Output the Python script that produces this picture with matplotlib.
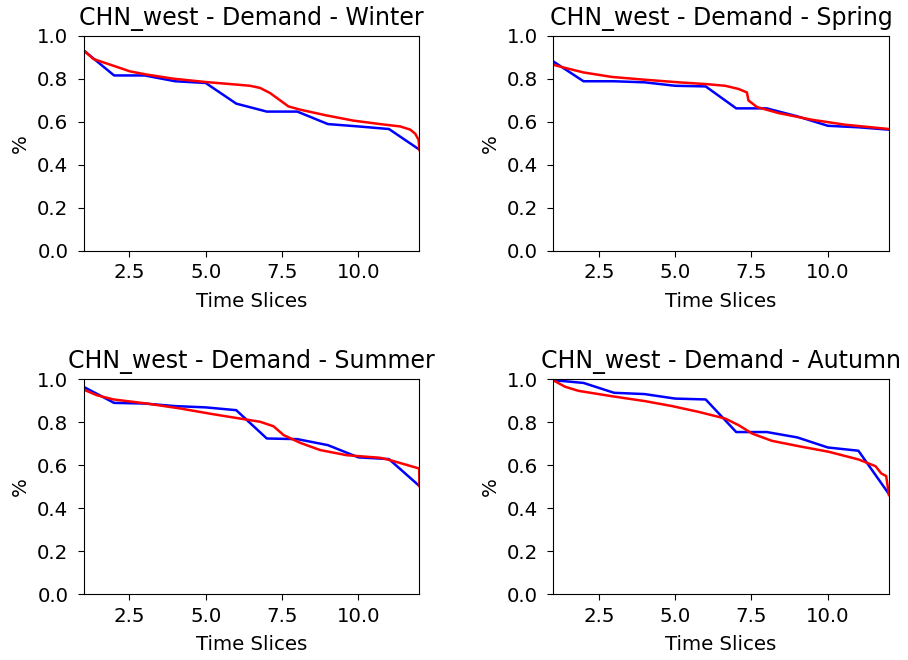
import matplotlib
matplotlib.use("Agg")
import matplotlib.pyplot as plt

# time slices for the 12-point (blue) series
slices = list(range(1, 13))

# blue: aggregated time-slice demand
winter_blue = [0.932, 0.815, 0.815, 0.788, 0.780, 0.684, 0.647, 0.647, 0.589, 0.578, 0.566, 0.470]
spring_blue = [0.881, 0.788, 0.788, 0.783, 0.767, 0.764, 0.662, 0.662, 0.625, 0.581, 0.574, 0.563]
summer_blue = [0.966, 0.891, 0.888, 0.876, 0.870, 0.857, 0.725, 0.722, 0.694, 0.637, 0.629, 0.503]
autumn_blue = [0.997, 0.984, 0.938, 0.932, 0.911, 0.907, 0.755, 0.755, 0.730, 0.683, 0.668, 0.466]

# red: sorted hourly demand (read at a set of positions)
winter_red_x = [1, 1.33, 1.98, 2.52, 3.07, 3.94, 5.03, 5.80, 6.45, 6.78, 7.11, 7.44, 7.71, 8.09,
                8.96, 9.84, 10.71, 11.37, 11.70, 11.86, 11.97, 12]
winter_red = [0.932, 0.891, 0.860, 0.834, 0.819, 0.800, 0.784, 0.775, 0.767, 0.757, 0.733, 0.699,
              0.671, 0.656, 0.629, 0.605, 0.589, 0.578, 0.563, 0.544, 0.516, 0.468]

spring_red_x = [1, 1.40, 2.0, 2.93, 4.02, 5.12, 5.99, 6.64, 7.08, 7.35, 7.40, 7.68, 8.39, 9.48,
                10.57, 12]
spring_red = [0.865, 0.850, 0.829, 0.808, 0.795, 0.783, 0.775, 0.767, 0.752, 0.736, 0.699, 0.668,
              0.640, 0.609, 0.586, 0.566]

summer_red_x = [1, 1.43, 1.98, 3.07, 4.16, 5.25, 6.12, 6.78, 7.22, 7.55, 8.09, 8.75, 9.62, 10.71,
                11.04, 11.99, 12]
summer_red = [0.953, 0.927, 0.907, 0.888, 0.865, 0.838, 0.818, 0.803, 0.782, 0.741, 0.705, 0.671,
              0.647, 0.635, 0.624, 0.585, 0.503]

autumn_red_x = [1, 1.40, 1.84, 2.93, 4.02, 4.90, 5.77, 6.64, 7.08, 7.52, 8.17, 9.05, 10.03, 11.01,
                11.56, 11.75, 11.91, 12]
autumn_red = [0.997, 0.966, 0.947, 0.922, 0.899, 0.876, 0.849, 0.818, 0.787, 0.748, 0.714, 0.689,
              0.663, 0.627, 0.596, 0.562, 0.550, 0.461]

seasons = ['Winter', 'Spring', 'Summer', 'Autumn']
blues = [winter_blue, spring_blue, summer_blue, autumn_blue]
reds_x = [winter_red_x, spring_red_x, summer_red_x, autumn_red_x]
reds = [winter_red, spring_red, summer_red, autumn_red]

fig = plt.figure(figsize=(9.08, 6.6), dpi=100)
positions = [
    [0.092, 0.620, 0.370, 0.326],
    [0.609, 0.620, 0.370, 0.326],
    [0.092, 0.100, 0.370, 0.325],
    [0.609, 0.100, 0.370, 0.325],
]

for i, season in enumerate(seasons):
    ax = fig.add_axes(positions[i])
    ax.plot(slices, blues[i], color='blue', linewidth=1.8)
    ax.plot(reds_x[i], reds[i], color='red', linewidth=1.8)
    ax.set_xlim(1, 12)
    ax.set_ylim(0, 1)
    ax.set_xticks([2.5, 5.0, 7.5, 10.0])
    ax.set_title(f"CHN_west - Demand - {season}", fontsize=17, pad=8)
    ax.set_xlabel("Time Slices", fontsize=14.2, labelpad=7)
    ax.set_ylabel("%", fontsize=14.2, labelpad=5)
    ax.tick_params(labelsize=14.2, length=4.5)
    ax.tick_params(axis='x', pad=4.5)
    ax.tick_params(axis='y', pad=6.5)

plt.savefig("out.png", dpi=100)
